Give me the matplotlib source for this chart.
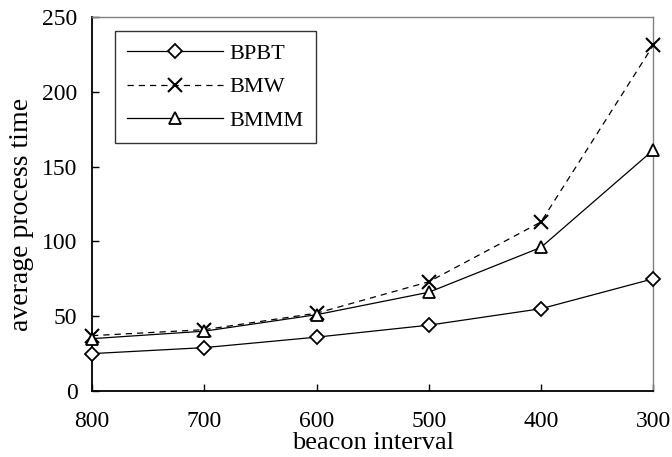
import matplotlib.pyplot as plt

# beacon interval categories (plotted left to right as in the figure)
intervals = ['800', '700', '600', '500', '400', '300']

# average process time per method
bpbt = [25, 29, 36, 44, 55, 75]
bmw = [37, 41, 52, 73, 113, 231]
bmmm = [35, 40, 51, 66, 96, 161]

plt.rcParams['font.family'] = ['Liberation Serif', 'DejaVu Serif']

fig = plt.figure(figsize=(6.72, 4.57), dpi=100)
ax = fig.add_axes([0.137, 0.1444, 0.835, 0.8184])

x = range(len(intervals))
ax.plot(x, bpbt, color='black', lw=0.9, marker='D', markersize=7,
        markerfacecolor='white', markeredgecolor='black', markeredgewidth=1.3,
        label='BPBT', clip_on=False, zorder=3)
ax.plot(x, bmw, color='black', lw=0.9, ls=(0, (5, 4)), marker='x', markersize=10,
        markeredgewidth=1.5, label='BMW', clip_on=False, zorder=3)
ax.plot(x, bmmm, color='black', lw=0.9, marker='^', markersize=9,
        markerfacecolor='white', markeredgecolor='black', markeredgewidth=1.3,
        label='BMMM', clip_on=False, zorder=3)

ax.set_xlim(0, len(intervals) - 1)
ax.set_ylim(0, 250)
ax.set_xticks(list(x))
ax.set_xticklabels(intervals)
ax.set_yticks(range(0, 251, 50))
ax.tick_params(direction='in', length=5, width=1, labelsize=17)
ax.tick_params(axis='x', pad=14.5)
ax.tick_params(axis='y', pad=10.5)

for side in ['left', 'bottom']:
    ax.spines[side].set_linewidth(1.3)
for side in ['top', 'right']:
    ax.spines[side].set_color('#808080')
    ax.spines[side].set_linewidth(1)

ax.set_xlabel('beacon interval', fontsize=19, labelpad=0)
ax.set_ylabel('average process time', fontsize=20)
ax.yaxis.set_label_coords(-0.103, 0.473)

leg = ax.legend(loc='upper left', bbox_to_anchor=(0.041, 0.962), fontsize=16,
                frameon=True, fancybox=False, handlelength=4.3, handletextpad=0.3,
                borderpad=0.55, labelspacing=0.58, borderaxespad=0)
leg.get_frame().set_edgecolor('black')
leg.get_frame().set_linewidth(1)

fig.savefig('out.png', dpi=100)
